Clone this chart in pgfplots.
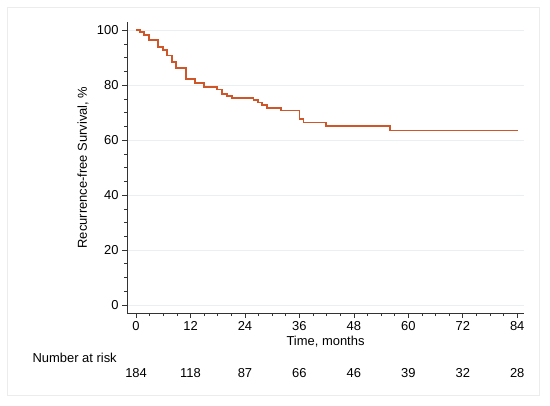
\documentclass[border=0pt]{standalone}
\usepackage{pgfplots}
\pgfplotsset{compat=1.18}
\usepackage{fontspec}
\setmainfont{Liberation Sans}
\definecolor{kmline}{RGB}{207,86,40}
\definecolor{gridc}{RGB}{232,240,242}
\definecolor{framec}{RGB}{236,236,236}
\newcommand{\fs}{\fontsize{13}{15}\selectfont}
\begin{document}
\begin{tikzpicture}[x=1bp,y=1bp]
\useasboundingbox (0,0) rectangle (550,405);
\draw[framec, line width=1bp] (7,10) rectangle (539,397);
\begin{axis}[
    at={(127bp,92bp)}, anchor=south west,
    scale only axis, width=397bp, height=291bp,
    xmin=-2, xmax=85.5, ymin=-2.9, ymax=103,
    axis x line*=bottom, axis y line*=left,
    axis line style={line width=0.8bp, black!80},
    tick align=outside,
    major tick length=5bp, minor tick length=3bp,
    tick style={line width=0.7bp, black!80},
    xtick={0,12,...,84}, ytick={0,20,...,100},
    minor x tick num=3, minor y tick num=3,
    ymajorgrids, major grid style={gridc, line width=0.8bp},
    /pgf/number format/assume math mode=true,
    tick label style={font=\fs},
    label style={font=\fs},
    xlabel={Time, months},
    xlabel style={at={(axis description cs:0.5,-0.0997)}, anchor=center},
    ylabel={Recurrence-free Survival, \%},
    ylabel style={at={(axis description cs:-0.111,0.5)}, anchor=center},
    clip=false,
]
\addplot[const plot, kmline, line width=1.8bp, line join=miter] coordinates {
(0,100) (0.9,99.5) (1.8,98.4) (2.9,96.4) (4.9,93.9) (5.9,92.7)
(6.9,90.8) (7.9,88.4) (8.8,86.3) (11.0,82.2) (13.0,80.8) (15.0,79.2)
(17.9,78.4) (18.9,76.8) (20.0,76.1) (21.1,75.3) (25.9,74.5) (26.8,73.7)
(27.7,72.8) (28.8,71.8) (31.9,70.8) (36.0,67.6) (36.9,66.4) (41.9,65.2)
(56.0,63.5) (84.1,63.5)};
\node[font=\fs, anchor=west] at (axis cs:-23.6,-19.3) {Number at risk};
\node[font=\fs] at (axis cs:0,-24.7) {184};
\node[font=\fs] at (axis cs:12,-24.7) {118};
\node[font=\fs] at (axis cs:24,-24.7) {87};
\node[font=\fs] at (axis cs:36,-24.7) {66};
\node[font=\fs] at (axis cs:48,-24.7) {46};
\node[font=\fs] at (axis cs:60,-24.7) {39};
\node[font=\fs] at (axis cs:72,-24.7) {32};
\node[font=\fs] at (axis cs:84,-24.7) {28};
\end{axis}
\end{tikzpicture}
\end{document}
